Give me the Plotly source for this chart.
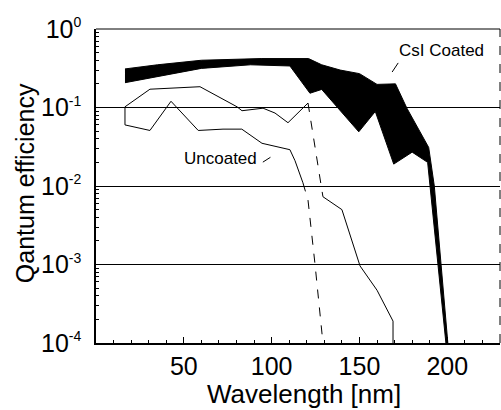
import plotly.graph_objects as go

# ---- data ----
csi_upper_nm = [16.5, 35, 60, 94, 121, 128.5, 139, 150, 160, 170.5, 177, 189.4, 192.6, 200.3]
csi_upper_qe = [0.31, 0.35, 0.40, 0.42, 0.42, 0.35, 0.30, 0.27, 0.197, 0.20, 0.098, 0.031, 0.01, 1e-4]
csi_lower_nm = [16.5, 60, 88, 110.4, 121.8, 128.5, 149.6, 159, 169.5, 180, 188.8, 190.3, 199.2]
csi_lower_qe = [0.207, 0.315, 0.35, 0.338, 0.152, 0.17, 0.049, 0.089, 0.019, 0.027, 0.020, 0.01, 1e-4]

unc_hi_nm = [16.5, 30.7, 59.2, 80.3, 83.1, 95.1, 101.9, 109.3, 120.7, 129.2, 140, 150.3, 160, 169.1, 169.1]
unc_hi_qe = [0.102, 0.171, 0.184, 0.102, 0.091, 0.098, 0.085, 0.064, 0.114, 0.0073, 0.005, 0.00096, 0.00047, 0.00019, 1e-4]
unc_hi_dash = (8, 9)   # segment drawn dashed (index range)

unc_lo_nm = [16.5, 16.5, 30.7, 42.7, 58.2, 72.3, 83, 94.5, 110.4, 113.3, 117.8, 120.7, 124.7, 129.2]
unc_lo_qe = [0.102, 0.06, 0.051, 0.12, 0.051, 0.053, 0.053, 0.035, 0.029, 0.021, 0.011, 0.0066, 0.001, 1e-4]
unc_lo_dash = (10, 13)

x_ticks = [50, 100, 150, 200]
x_minor = [10, 20, 30, 40, 60, 70, 80, 90, 110, 120, 130, 140, 160, 170, 180, 190, 210, 220]
y_ticks = [1e-4, 1e-3, 1e-2, 1e-1, 1]
y_exponents = ["-4", "-3", "-2", "-1", "0"]
y_ticktext = ["10<sup><span style='font-size:14px'>%s</span></sup>" % e for e in y_exponents]
y_minor = [m * 10.0 ** e for e in range(-4, 0) for m in range(2, 10)]

FONT = "Liberation Sans, Arial, sans-serif"

fig = go.Figure()

# CsI coated band (filled polygon)
band_x = csi_upper_nm + csi_lower_nm[::-1]
band_y = csi_upper_qe + csi_lower_qe[::-1]
fig.add_trace(go.Scatter(x=band_x, y=band_y, mode="lines", fill="toself",
                         fillcolor="black", line=dict(color="black", width=1),
                         hoverinfo="skip", showlegend=False))


def add_curve(xs, ys, dash_rng):
    a, b = dash_rng
    parts = [(0, a, "solid"), (a, b, "dash"), (b, len(xs) - 1, "solid")]
    for i0, i1, d in parts:
        if i1 > i0:
            fig.add_trace(go.Scatter(x=xs[i0:i1 + 1], y=ys[i0:i1 + 1], mode="lines",
                                     line=dict(color="black", width=1, dash=d),
                                     showlegend=False, hoverinfo="skip"))


add_curve(unc_hi_nm, unc_hi_qe, unc_hi_dash)
add_curve(unc_lo_nm, unc_lo_qe, unc_lo_dash)

fig.update_layout(
    width=501, height=410,
    margin=dict(l=96, r=1, t=29, b=67),
    paper_bgcolor="white", plot_bgcolor="white",
    font=dict(family=FONT, color="black"),
    showlegend=False,
    xaxis=dict(range=[0, 230], tickmode="array", tickvals=x_ticks, automargin=False,
               ticks="inside", ticklen=6, tickwidth=1.2, tickcolor="black",
               minor=dict(tickmode="array", tickvals=x_minor, ticks="inside",
                          ticklen=3, tickwidth=1, tickcolor="black", showgrid=False),
               showline=True, linecolor="black", linewidth=1.5,
               showgrid=False, zeroline=False,
               tickfont=dict(size=25, family=FONT, color="black")),
    yaxis=dict(type="log", range=[-4, 0], tickmode="array", tickvals=y_ticks, automargin=False,
               ticktext=y_ticktext, ticks="inside", ticklen=5, tickcolor="black",
               minor=dict(tickmode="array", tickvals=y_minor, ticks="inside",
                          ticklen=3, tickwidth=1, tickcolor="black", showgrid=False),
               showline=True, linecolor="black", linewidth=1.5,
               showgrid=True, gridcolor="black", gridwidth=1, zeroline=False,
               ticklabelstandoff=8,
               tickfont=dict(size=25, family=FONT, color="black")),
    annotations=[
        dict(text="Wavelength [nm]", xref="paper", yref="paper", x=0.515, y=-0.162,
             xanchor="center", yanchor="middle", showarrow=False,
             font=dict(size=26, family=FONT, color="black")),
        dict(text="Qantum efficiency", xref="paper", yref="paper", x=-0.175, y=0.51,
             xanchor="center", yanchor="middle", textangle=-90, showarrow=False,
             font=dict(size=25, family=FONT, color="black")),
        dict(text="CsI Coated", xref="paper", yref="paper", x=0.854, y=0.933,
             xanchor="center", yanchor="middle",
             showarrow=False, font=dict(size=17, family=FONT, color="black")),
        dict(text="Uncoated", xref="paper", yref="paper", x=0.307, y=0.589,
             xanchor="center", yanchor="middle",
             showarrow=False, font=dict(size=17, family=FONT, color="black")),
    ],
    shapes=[
        dict(type="line", xref="paper", yref="paper", x0=0, x1=1, y0=1, y1=1,
             line=dict(color="black", width=1)),
        dict(type="line", xref="paper", yref="paper", x0=1, x1=1, y0=0, y1=1,
             line=dict(color="black", width=1, dash="dash")),
        dict(type="line", xref="paper", yref="paper", x0=0.733, x1=0.748, y0=0.863, y1=0.892,
             line=dict(color="black", width=1)),
        dict(type="line", xref="paper", yref="paper", x0=0.413, x1=0.441, y0=0.576, y1=0.599,
             line=dict(color="black", width=1, dash="dash")),
    ],
)

fig.write_html("out.html", config={"displayModeBar": False},
               post_script="document.body.style.margin='0px';document.body.style.padding='0px';")
